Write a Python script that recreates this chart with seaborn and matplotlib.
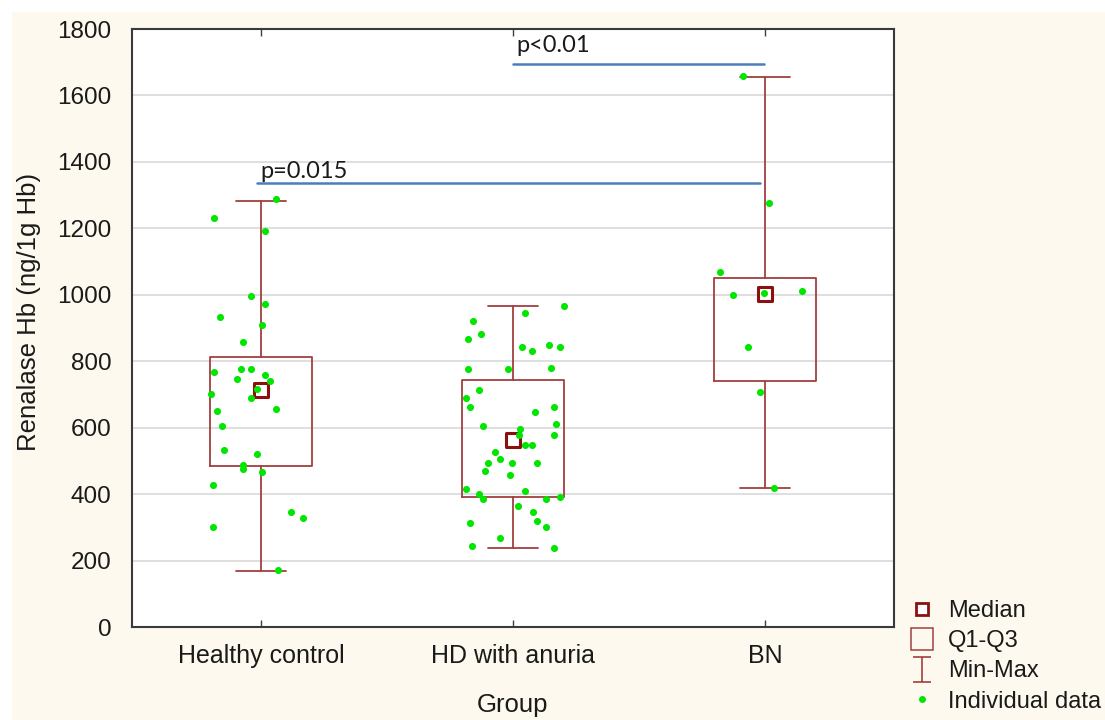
import numpy as np
import pandas as pd
import matplotlib
matplotlib.use("Agg")
import matplotlib.pyplot as plt
import seaborn as sns
from matplotlib.lines import Line2D
from matplotlib.path import Path
from matplotlib.patches import Rectangle

# ---------------- data ----------------
groups = ["Healthy control", "HD with anuria", "BN"]
q1_vals = [484, 392, 741]
q3_vals = [813, 742, 1050]
median_vals = [713, 564, 1003]
min_vals = [169, 237, 417]
max_vals = [1282, 966, 1655]

healthy_values = [1287, 1230, 1192, 996, 972, 933, 909, 859, 769, 776, 776, 747, 759, 741, 717,
                  702, 689, 657, 651, 606, 533, 522, 489, 476, 466, 427, 347, 329, 302, 172]
healthy_offsets = [0.058, -0.186, 0.015, -0.041, 0.015, -0.163, 0.005, -0.07, -0.186, -0.079,
                   -0.041, -0.094, 0.015, 0.034, -0.015, -0.2, -0.041, 0.058, -0.176, -0.155,
                   -0.148, -0.016, -0.07, -0.07, 0.005, -0.19, 0.12, 0.165, -0.19, 0.066]

hd_values = [967, 944, 921, 883, 866, 843, 832, 849, 842, 776, 776, 779, 713, 689, 662, 662, 646,
             611, 606, 596, 579, 577, 549, 549, 527, 505, 493, 493, 493, 471, 458, 414, 408, 400,
             385, 385, 391, 365, 347, 312, 319, 301, 267, 245, 239]
hd_offsets = [0.202, 0.048, -0.157, -0.128, -0.18, 0.034, 0.074, 0.142, 0.185, -0.18, -0.02, 0.15,
              -0.135, -0.185, -0.17, 0.164, 0.087, 0.17, -0.118, 0.027, 0.022, 0.164, 0.048, 0.074,
              -0.073, -0.05, -0.1, -0.005, 0.095, -0.11, -0.013, -0.185, 0.049, -0.134, -0.118,
              0.131, 0.185, 0.019, 0.08, -0.17, 0.095, 0.131, -0.05, -0.164, 0.164]

bn_values = [1660, 1276, 1069, 999, 1006, 1012, 843, 706, 418]
bn_offsets = [-0.088, 0.016, -0.18, -0.127, -0.005, 0.147, -0.066, -0.02, 0.035]

comp_labels = ["p=0.015", "p<0.01"]
comp_start = [-0.016, 1.0]
comp_end = [1.98, 1.996]
comp_y = [1335, 1695]

y_ticks = [0, 200, 400, 600, 800, 1000, 1200, 1400, 1600, 1800]

# ---------------- styling ----------------
sns.set_theme(style="white")
plt.rcParams["font.family"] = ["Liberation Sans", "DejaVu Sans"]

BOX_COLOR = "#a0403f"
MED_COLOR = "#8b1010"
PT_COLOR = "#00e600"
LINE_BLUE = "#4a7ebb"
BG = "#fdf9ee"
TXT = "#1a1a1a"

fig = plt.figure(figsize=(11.05, 7.2), dpi=100)
fig.patch.set_facecolor("white")
fig.patches.append(Rectangle((12 / 1105, 0), 1, 708 / 720, transform=fig.transFigure,
                             facecolor=BG, edgecolor="none", zorder=-10))

ax = fig.add_axes([132 / 1105, 93 / 720, (894 - 132) / 1105, (627 - 29) / 720])
ax.set_facecolor("white")

# boxes (Q1-Q3, Min-Max)
stats = []
for i, g in enumerate(groups):
    stats.append(dict(label=g, q1=q1_vals[i], q3=q3_vals[i], med=median_vals[i],
                      whislo=min_vals[i], whishi=max_vals[i], fliers=[]))
ax.bxp(stats, positions=range(len(groups)), widths=0.405, capwidths=0.2,
       showfliers=False, patch_artist=False,
       boxprops=dict(color=BOX_COLOR, linewidth=1.3),
       whiskerprops=dict(color=BOX_COLOR, linewidth=1.3),
       capprops=dict(color=BOX_COLOR, linewidth=1.3),
       medianprops=dict(linewidth=0), manage_ticks=False, zorder=2)

# medians
med_df = pd.DataFrame({"x": range(len(groups)), "y": median_vals})
sns.scatterplot(data=med_df, x="x", y="y", marker="s", s=110, facecolor="white",
                edgecolor=MED_COLOR, linewidth=2.2, ax=ax, zorder=3, legend=False)

# individual points
frames = []
for i, (vals, offs) in enumerate([(healthy_values, healthy_offsets),
                                  (hd_values, hd_offsets),
                                  (bn_values, bn_offsets)]):
    frames.append(pd.DataFrame({"group": groups[i],
                                "x": i + np.array(offs),
                                "value": vals}))
pts = pd.concat(frames, ignore_index=True)
sns.scatterplot(data=pts, x="x", y="value", color=PT_COLOR, s=26, linewidth=0,
                ax=ax, zorder=4, legend=False)

# comparison bars
text_gap = [18, 36]
for lab, xs, xe, yy, gap in zip(comp_labels, comp_start, comp_end, comp_y, text_gap):
    ax.plot([xs, xe], [yy, yy], color=LINE_BLUE, linewidth=1.8, zorder=3)
    ax.text(xs + 0.012, yy + gap, lab, fontsize=17, family=["Lato", "DejaVu Sans"],
            color=TXT, ha="left", va="baseline")

# axes
ax.set_xlim(-0.512, 2.512)
ax.set_ylim(0, 1800)
ax.set_xticks(range(len(groups)))
ax.set_xticklabels(groups)
ax.set_yticks(y_ticks)
ax.yaxis.grid(True, color="#d9d9d9", linewidth=1.2)
ax.xaxis.grid(False)
ax.set_axisbelow(True)
ax.tick_params(axis="x", direction="in", length=5, width=1, color="#404040",
               top=True, bottom=True, labelsize=18, pad=12, labelcolor=TXT)
ax.tick_params(axis="y", direction="in", length=0, labelsize=17.5, pad=15, labelcolor=TXT)
for sp in ax.spines.values():
    sp.set_color("#3a3a3a")
    sp.set_linewidth(1.5)
ax.set_xlabel("Group", fontsize=18.5, color=TXT, labelpad=18)
ax.set_ylabel("Renalase Hb (ng/1g Hb)", fontsize=18.5, color=TXT)
ax.yaxis.set_label_coords(-0.119, 0.527)

# legend
ibeam = Path([(-0.35, 0.5), (0.35, 0.5), (0, 0.5), (0, -0.5), (-0.35, -0.5), (0.35, -0.5)],
             [Path.MOVETO, Path.LINETO, Path.MOVETO, Path.LINETO, Path.MOVETO, Path.LINETO])
handles = [
    Line2D([], [], linestyle="None", marker="s", markersize=8, markerfacecolor="white",
           markeredgecolor=MED_COLOR, markeredgewidth=2),
    Line2D([], [], linestyle="None", marker="s", markersize=16, markerfacecolor="none",
           markeredgecolor=BOX_COLOR, markeredgewidth=1.1),
    Line2D([], [], linestyle="None", marker=ibeam, markersize=18, markerfacecolor="none",
           markeredgecolor=BOX_COLOR, markeredgewidth=1.2),
    Line2D([], [], linestyle="None", marker="o", markersize=5, markerfacecolor=PT_COLOR,
           markeredgewidth=0),
]
labels = ["Median", "Q1-Q3", "Min-Max", "Individual data"]
fig.legend(handles, labels, loc="upper left", bbox_to_anchor=(0.812, 0.18),
           frameon=False, fontsize=17, labelspacing=0.35, handletextpad=0.45,
           handlelength=1.3, borderaxespad=0, labelcolor=TXT)

fig.savefig("out.png", dpi=100, facecolor=fig.get_facecolor())
